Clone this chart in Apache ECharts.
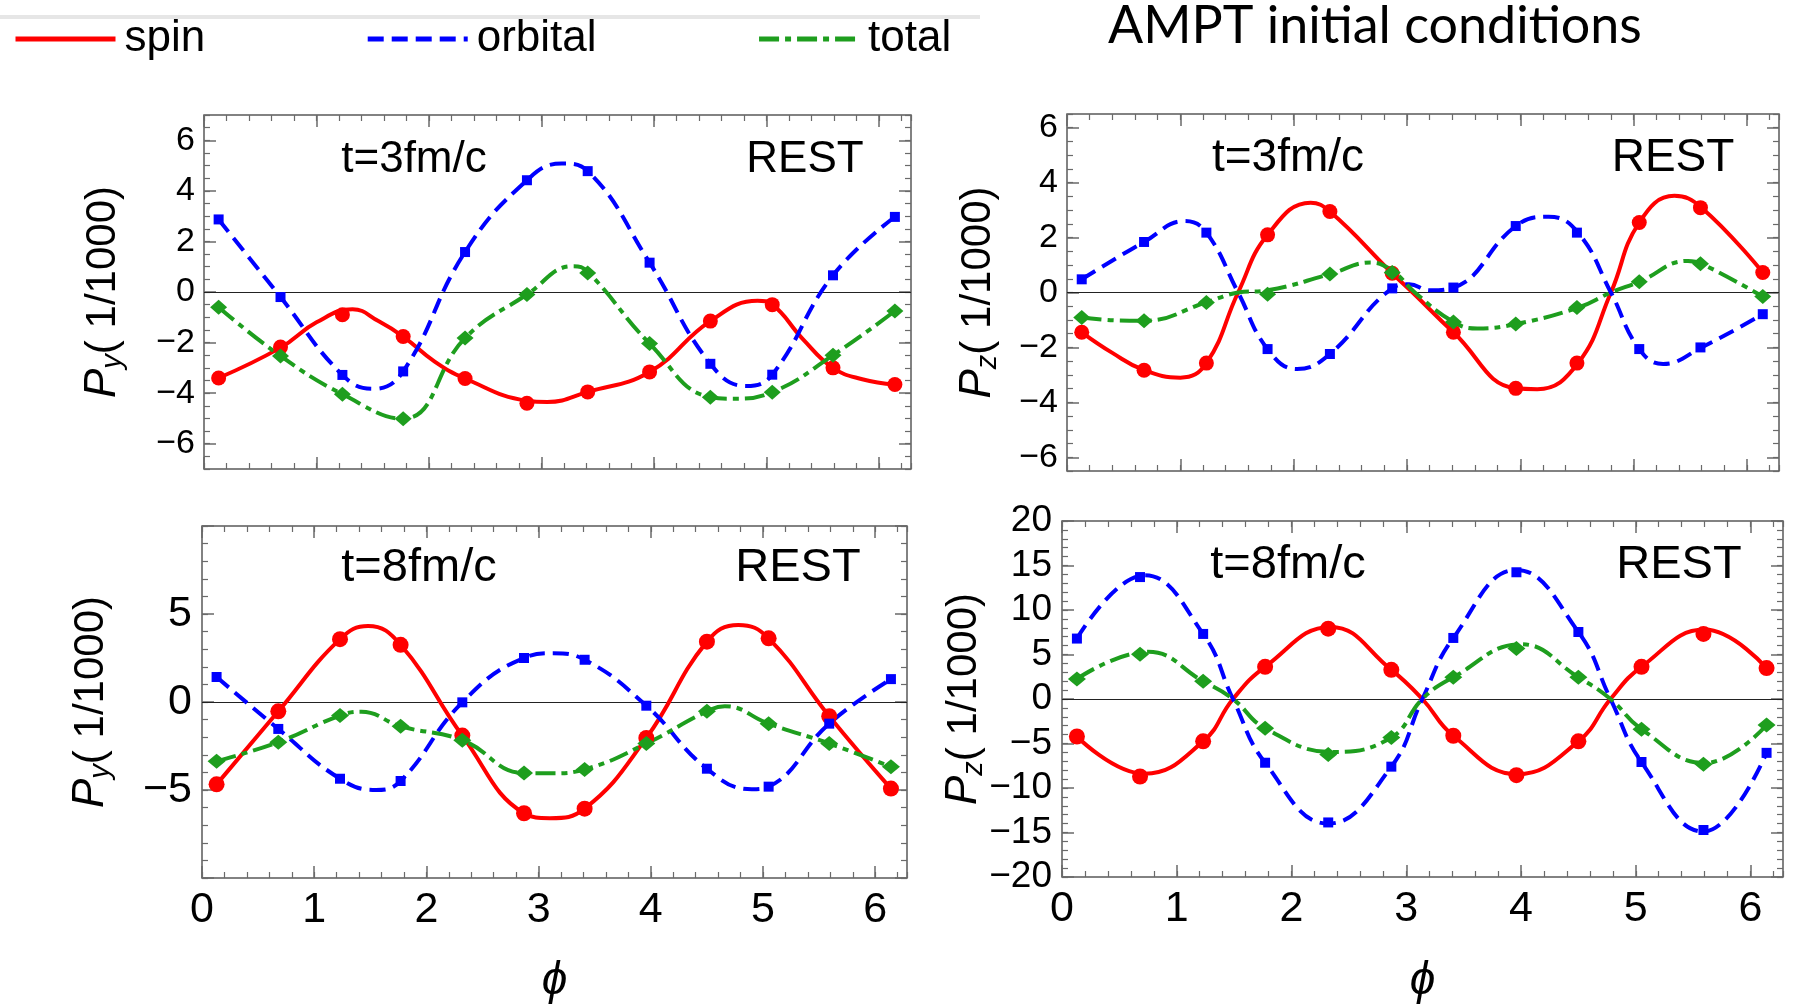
<!DOCTYPE html>
<html><head><meta charset="utf-8">
<script src="https://cdn.jsdelivr.net/npm/echarts@6/dist/echarts.min.js"></script>
<style>html,body{margin:0;padding:0;background:#fff}#c{width:1797px;height:1005px}</style>
</head><body><div id="c"></div>
<script>
// ---------------- data ----------------
const phi = [0.13, 0.68, 1.23, 1.77, 2.32, 2.87, 3.41, 3.96, 4.50, 5.05, 5.59, 6.14];
const xTicks = [0, 1, 2, 3, 4, 5, 6];
const seriesNames = ['spin', 'orbital', 'total'];

// Py, t = 3 fm/c
const pyT3SpinPts = [-3.40, -2.18, -0.90, -1.76, -3.42, -4.40, -3.95, -3.16, -1.15, -0.50, -3.00, -3.66];
const pyT3OrbPts  = [2.87, -0.20, -3.28, -3.14, 1.58, 4.42, 4.78, 1.16, -2.84, -3.27, 0.66, 2.97];
const pyT3TotPts  = [-0.60, -2.53, -4.04, -5.01, -1.82, -0.10, 0.75, -2.04, -4.16, -3.96, -2.50, -0.75];
const pyT3SpinCurve = [[0.13,-3.40],[0.68,-2.20],[1.00,-1.20],[1.32,-0.68],[1.55,-1.15],[1.77,-1.76],[2.05,-2.75],[2.32,-3.42],[2.87,-4.30],[3.05,-4.35],[3.41,-3.95],[3.96,-3.16],[4.50,-1.15],[4.92,-0.35],[5.05,-0.50],[5.32,-1.85],[5.59,-3.00],[5.85,-3.45],[6.14,-3.66]];
const pyT3OrbCurve  = [[0.13,2.87],[0.68,-0.20],[1.23,-3.28],[1.50,-3.83],[1.77,-3.14],[2.32,1.58],[2.87,4.42],[3.18,5.08],[3.41,4.78],[3.96,1.16],[4.50,-2.84],[4.82,-3.72],[5.05,-3.27],[5.59,0.66],[6.14,2.97]];
const pyT3TotCurve  = [[0.13,-0.60],[0.68,-2.53],[1.23,-4.04],[1.77,-5.01],[2.32,-1.82],[2.87,-0.10],[3.28,1.02],[3.41,0.80],[3.96,-2.04],[4.50,-4.16],[4.70,-4.22],[5.05,-3.96],[5.59,-2.50],[6.14,-0.75]];

// Pz, t = 3 fm/c
const pzT3SpinPts = [-1.45, -2.83, -2.57, 2.10, 2.95, 0.70, -1.45, -3.49, -2.57, 2.55, 3.09, 0.73];
const pzT3OrbPts  = [0.48, 1.84, 2.18, -2.06, -2.24, 0.15, 0.18, 2.42, 2.18, -2.06, -2.00, -0.79];
const pzT3TotPts  = [-0.91, -1.03, -0.36, -0.06, 0.67, 0.73, -1.07, -1.15, -0.55, 0.39, 1.05, -0.15];
const pzT3SpinCurve = [[0.13,-1.45],[0.40,-2.20],[0.68,-2.83],[1.00,-3.10],[1.23,-2.57],[1.51,0.00],[1.77,2.10],[2.15,3.27],[2.32,2.95],[2.87,0.70],[3.05,0.00],[3.41,-1.45],[3.96,-3.49],[4.15,-3.52],[4.51,-2.57],[4.80,0.00],[5.05,2.55],[5.36,3.52],[5.60,3.09],[6.14,0.73]];
const pzT3OrbCurve  = [[0.13,0.48],[0.68,1.84],[1.04,2.60],[1.23,2.18],[1.51,0.00],[1.77,-2.06],[2.03,-2.79],[2.32,-2.24],[2.87,0.15],[3.02,0.30],[3.20,0.08],[3.41,0.18],[3.96,2.42],[4.25,2.76],[4.51,2.18],[4.80,0.00],[5.05,-2.06],[5.26,-2.60],[5.60,-2.00],[6.14,-0.79]];
const pzT3TotCurve  = [[0.13,-0.91],[0.45,-1.02],[0.68,-1.03],[1.23,-0.36],[1.51,0.00],[1.77,0.08],[2.32,0.67],[2.68,1.09],[2.87,0.80],[3.07,0.00],[3.41,-1.07],[3.62,-1.31],[3.96,-1.15],[4.51,-0.55],[4.80,0.00],[5.05,0.39],[5.48,1.15],[5.60,1.05],[6.14,-0.15]];

// Py, t = 8 fm/c
const pyT8SpinPts = [-4.68, -0.53, 3.57, 3.25, -1.91, -6.32, -6.06, -2.04, 3.43, 3.62, -0.81, -4.92];
const pyT8OrbPts  = [1.42, -1.53, -4.36, -4.49, -0.02, 2.50, 2.40, -0.21, -3.79, -4.81, -1.23, 1.30];
const pyT8TotPts  = [-3.36, -2.28, -0.77, -1.38, -2.17, -4.04, -3.83, -2.36, -0.53, -1.23, -2.36, -3.68];
const pyT8SpinCurve = [[0.13,-4.68],[0.68,-0.53],[1.23,3.57],[1.48,4.32],[1.77,3.25],[2.32,-1.91],[2.87,-6.32],[3.10,-6.60],[3.41,-6.06],[3.96,-2.04],[4.50,3.43],[4.78,4.38],[5.05,3.62],[5.59,-0.81],[6.14,-4.92]];
const pyT8OrbCurve  = [[0.13,1.42],[0.68,-1.53],[1.23,-4.36],[1.55,-5.00],[1.77,-4.49],[2.32,-0.02],[2.87,2.50],[3.13,2.77],[3.41,2.40],[3.96,-0.21],[4.50,-3.79],[4.90,-4.96],[5.05,-4.81],[5.59,-1.23],[6.14,1.30]];
const pyT8TotCurve  = [[0.13,-3.36],[0.68,-2.28],[1.23,-0.77],[1.42,-0.55],[1.77,-1.38],[2.32,-2.17],[2.87,-4.04],[3.12,-4.05],[3.41,-3.83],[3.96,-2.36],[4.50,-0.53],[4.66,-0.24],[5.05,-1.23],[5.59,-2.36],[6.14,-3.68]];

// Pz, t = 8 fm/c
const pzT8SpinPts = [-4.21, -8.71, -4.76, 3.62, 7.90, 3.28, -4.13, -8.56, -4.76, 3.62, 7.31, 3.47];
const pzT8OrbPts  = [6.79, 13.70, 7.31, -7.16, -13.87, -7.60, 6.86, 14.24, 7.53, -7.08, -14.72, -6.05];
const pzT8TotPts  = [2.25, 5.02, 1.99, -3.28, -6.24, -4.32, 2.44, 5.68, 2.44, -3.39, -7.34, -2.92];
const pzT8SpinCurve = [[0.13,-4.21],[0.72,-8.40],[1.23,-4.76],[1.49,0],[1.77,3.62],[2.34,8.10],[2.87,3.28],[3.14,0],[3.41,-4.13],[3.97,-8.45],[4.50,-4.76],[4.78,0],[5.05,3.62],[5.60,7.80],[6.14,3.47]];
const pzT8OrbCurve  = [[0.13,6.79],[0.72,13.90],[1.23,7.31],[1.49,0],[1.77,-7.16],[2.32,-14.00],[2.87,-7.60],[3.14,0],[3.41,6.86],[3.96,14.50],[4.50,7.53],[4.78,0],[5.05,-7.08],[5.59,-14.90],[6.14,-6.05]];
const pzT8TotCurve  = [[0.13,2.25],[0.75,5.30],[1.23,1.99],[1.49,0],[1.77,-3.28],[2.36,-5.95],[2.87,-4.32],[3.14,0],[3.41,2.44],[4.00,6.15],[4.50,2.44],[4.78,0],[5.05,-3.39],[5.60,-7.20],[6.14,-2.92]];

// axis ranges and tick values
const pyT3Range = [-7, 7];
const pzT3Range = [-6.5, 6.5];
const pyT8Range = [-10, 10];
const pzT8Range = [-20, 20];
const yTicksT3 = [-6, -4, -2, 0, 2, 4, 6];
const yTicksPyT8 = [-10, -5, 0, 5, 10];
const yLabelsPyT8 = [-5, 0, 5];
const yTicksPzT8 = [-20, -15, -10, -5, 0, 5, 10, 15, 20];

// ---------------- styling / layout ----------------
const FONT = "'Liberation Sans', Arial, Helvetica, sans-serif";
const COLORS = { spin: '#ff0000', orbital: '#0000ff', total: '#1e9e1e' };
const DASH = { spin: 'solid', orbital: [16, 8], total: [20, 6, 6, 6] };
const SYMBOL = { spin: 'circle', orbital: 'rect', total: 'diamond' };
const FRAME = '#5a5a5a', TICK = '#6a6a6a';
const X_MAX = 2 * Math.PI;
const minusFmt = v => (v < 0 ? '\u2212' + (-v) : String(v));

const panels = [
  { grid: { left: 204, top: 115, width: 707, height: 354 }, range: pyT3Range, yMajor: yTicksT3, yLabels: yTicksT3, yMinor: 0.5,
    yFont: 34, yMargin: 9, xLabels: false, sub: 'y', nameGap: 77, xNameGap: 0,
    data: { spin: [pyT3SpinPts, pyT3SpinCurve], orbital: [pyT3OrbPts, pyT3OrbCurve], total: [pyT3TotPts, pyT3TotCurve] },
    sym: { spin: 15, orbital: 10, total: [17, 15] },
    txtFont: 44, tText: 't=3fm/c', tPos: [414, 160], restPos: [805, 160] },
  { grid: { left: 1067, top: 114, width: 712, height: 357 }, range: pzT3Range, yMajor: yTicksT3, yLabels: yTicksT3, yMinor: 0.5,
    yFont: 34, yMargin: 9, xLabels: false, sub: 'z', nameGap: 65, xNameGap: 0,
    data: { spin: [pzT3SpinPts, pzT3SpinCurve], orbital: [pzT3OrbPts, pzT3OrbCurve], total: [pzT3TotPts, pzT3TotCurve] },
    sym: { spin: 15, orbital: 10, total: [17, 15] },
    txtFont: 46, tText: 't=3fm/c', tPos: [1288, 158], restPos: [1673, 158] },
  { grid: { left: 202, top: 526, width: 705, height: 353 }, range: pyT8Range, yMajor: yTicksPyT8, yLabels: yLabelsPyT8, yMinor: 1,
    yFont: 43, yMargin: 10, xLabels: true, sub: 'y', nameGap: 87, xNameGap: 80,
    data: { spin: [pyT8SpinPts, pyT8SpinCurve], orbital: [pyT8OrbPts, pyT8OrbCurve], total: [pyT8TotPts, pyT8TotCurve] },
    sym: { spin: 16, orbital: 10, total: [18, 15] },
    txtFont: 47, tText: 't=8fm/c', tPos: [419, 568], restPos: [798, 568] },
  { grid: { left: 1062, top: 521, width: 721, height: 363 }, range: pzT8Range, yMajor: yTicksPzT8, yLabels: yTicksPzT8, yMinor: 1,
    yFont: 37, yMargin: 10, xLabels: true, sub: 'z', nameGap: 74, xNameGap: 81,
    data: { spin: [pzT8SpinPts, pzT8SpinCurve], orbital: [pzT8OrbPts, pzT8OrbCurve], total: [pzT8TotPts, pzT8TotCurve] },
    sym: { spin: 16, orbital: 10, total: [18, 15] },
    txtFont: 47, tText: 't=8fm/c', tPos: [1288, 565], restPos: [1679, 565] }
];

const grids = [], xAxes = [], yAxes = [], series = [], graphics = [];

panels.forEach((p, g) => {
  grids.push(Object.assign({ show: true, borderColor: FRAME, borderWidth: 1.5, backgroundColor: 'transparent' }, p.grid));
  const xBase = xAxes.length, yBase = yAxes.length;
  ['bottom', 'top'].forEach(pos => {
    const major = {
      type: 'value', gridIndex: g, position: pos, min: 0, max: X_MAX,
      axisLine: { show: false, onZero: false }, splitLine: { show: false },
      axisTick: { show: true, inside: true, length: 12, customValues: xTicks, lineStyle: { color: TICK, width: 1.5 } },
      axisLabel: { show: pos === 'bottom' && p.xLabels, customValues: xTicks, fontSize: 43, fontFamily: FONT, color: '#000', margin: 11 }
    };
    if (pos === 'bottom' && p.xLabels) {
      major.name = '\u03D5';
      major.nameLocation = 'middle';
      major.nameGap = p.xNameGap;
      major.nameMoveOverlap = false;
      major.nameTextStyle = { fontSize: 46, fontStyle: 'italic', fontFamily: FONT, color: '#000' };
    }
    xAxes.push(major);
    xAxes.push({
      type: 'value', gridIndex: g, position: pos, min: 0, max: X_MAX, interval: 0.2,
      axisLine: { show: false, onZero: false }, splitLine: { show: false },
      axisTick: { show: true, inside: true, length: 6, lineStyle: { color: TICK, width: 1.2 } },
      axisLabel: { show: false }
    });
  });
  ['left', 'right'].forEach(pos => {
    const major = {
      type: 'value', gridIndex: g, position: pos, min: p.range[0], max: p.range[1],
      axisLine: { show: false, onZero: false }, splitLine: { show: false },
      axisTick: { show: true, inside: true, length: 12, customValues: p.yMajor, lineStyle: { color: TICK, width: 1.5 } },
      axisLabel: { show: pos === 'left', customValues: p.yLabels, formatter: minusFmt, fontSize: p.yFont, fontFamily: FONT, color: '#000', margin: p.yMargin }
    };
    if (pos === 'left') {
      major.name = '{p|P}{s|' + p.sub + '}{t|( 1/1000)}';
      major.nameLocation = 'middle';
      major.nameRotate = 90;
      major.nameGap = p.nameGap;
      major.nameMoveOverlap = false;
      major.nameTextStyle = {
        fontFamily: FONT, color: '#000', fontSize: 42,
        rich: {
          p: { fontSize: 44, fontStyle: 'italic', fontFamily: FONT, lineHeight: 48, verticalAlign: 'middle' },
          s: { fontSize: 29, fontStyle: 'italic', fontFamily: FONT, lineHeight: 20, verticalAlign: 'bottom' },
          t: { fontSize: 42, fontFamily: FONT, lineHeight: 48, verticalAlign: 'middle' }
        }
      };
    }
    yAxes.push(major);
    yAxes.push({
      type: 'value', gridIndex: g, position: pos, min: p.range[0], max: p.range[1], interval: p.yMinor,
      axisLine: { show: false, onZero: false }, splitLine: { show: false },
      axisTick: { show: true, inside: true, length: 6, lineStyle: { color: TICK, width: 1.2 } },
      axisLabel: { show: false }
    });
  });

  seriesNames.forEach((nm, k) => {
    const [pts, curve] = p.data[nm];
    const line = {
      type: 'line', name: nm, xAxisIndex: xBase, yAxisIndex: yBase, data: curve,
      smooth: 0.45, symbol: 'none', z: 3 + k, animation: false,
      lineStyle: { color: COLORS[nm], width: 4, type: DASH[nm] }, itemStyle: { color: COLORS[nm] }
    };
    if (k === 0) {
      line.markLine = {
        silent: true, symbol: 'none', animation: false, label: { show: false },
        lineStyle: { color: '#222', width: 1.2, type: 'solid' }, data: [{ yAxis: 0 }], z: 1
      };
    }
    series.push(line);
  });
  seriesNames.forEach((nm, k) => {
    const [pts] = p.data[nm];
    series.push({
      type: 'scatter', name: nm, xAxisIndex: xBase, yAxisIndex: yBase,
      data: phi.map((x, i) => [x, pts[i]]), symbol: SYMBOL[nm], symbolSize: p.sym[nm],
      itemStyle: { color: COLORS[nm], opacity: 1 }, z: 6 + k, animation: false
    });
  });

  const tf = p.txtFont + 'px ' + FONT;
  graphics.push({ type: 'text', x: p.tPos[0], y: p.tPos[1], z: 20,
    style: { text: p.tText, font: tf, fill: '#000', align: 'center', verticalAlign: 'middle', textAlign: 'center', textVerticalAlign: 'middle' } });
  graphics.push({ type: 'text', x: p.restPos[0], y: p.restPos[1], z: 20,
    style: { text: 'REST', font: tf, fill: '#000', align: 'center', verticalAlign: 'middle', textAlign: 'center', textVerticalAlign: 'middle' } });
});

// top separator line and title
graphics.push({ type: 'rect', shape: { x: 0, y: 15, width: 980, height: 4 }, style: { fill: '#e6e6e6' }, z: 1 });
graphics.push({ type: 'text', x: 1108, y: 26, z: 20,
  style: { text: 'AMPT initial conditions', font: '52px Lato, ' + FONT, fill: '#000', align: 'left', verticalAlign: 'middle', textAlign: 'left', textVerticalAlign: 'middle' } });

const chart = echarts.init(document.getElementById('c'), null, { renderer: 'canvas' });
chart.setOption({
  backgroundColor: '#fff',
  animation: false,
  legend: {
    data: seriesNames, left: 8, top: 12, itemWidth: 100, itemHeight: 16, itemGap: 160,
    selectedMode: false,
    itemStyle: { opacity: 0 },
    lineStyle: { width: 5 },
    textStyle: { fontSize: 44, fontFamily: FONT, color: '#000', padding: [0, 0, 0, 4] }
  },
  grid: grids,
  xAxis: xAxes,
  yAxis: yAxes,
  series: series,
  graphic: graphics
});
</script>
</body></html>
